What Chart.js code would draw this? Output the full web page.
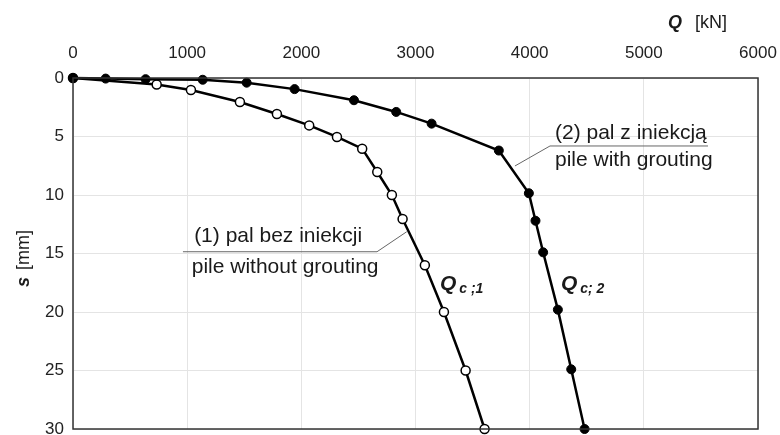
<!DOCTYPE html>
<html>
<head>
<meta charset="utf-8">
<script src="https://cdn.jsdelivr.net/npm/chart.js@4.4.0/dist/chart.umd.min.js"></script>
<style>
  html, body { margin: 0; padding: 0; background: #fff; }
  #wrap { width: 780px; height: 435px; position: relative; }
</style>
</head>
<body>
<div id="wrap"><canvas id="c"></canvas></div>
<script>
'use strict';

// Q [kN] vs s [mm]
var pile1Q = [0, 733, 1033, 1462, 1786, 2069, 2312, 2533, 2665, 2793, 2887, 3082, 3249, 3439, 3605]
var pile1S = [0, 0.55, 1.03, 2.05, 3.08, 4.05, 5.04, 6.04, 8.03, 10.0, 12.05, 16.0, 20.0, 25.0, 30.0]
var pile2Q = [0, 286, 636, 1136, 1521, 1941, 2461, 2831, 3141, 3730, 3993, 4051, 4118, 4247, 4364, 4481]
var pile2S = [0, 0.05, 0.1, 0.15, 0.4, 0.95, 1.9, 2.9, 3.9, 6.2, 9.85, 12.2, 14.9, 19.8, 24.9, 30.0]
var xTicks = [0, 1000, 2000, 3000, 4000, 5000, 6000]
var yTicks = [0, 5, 10, 15, 20, 25, 30]

const toPts = (xs, ys) => xs.map((x, i) => ({x: x, y: ys[i]}))

var FONT = 'Liberation Sans, Arial, sans-serif'

// text labels drawn on the canvas, anchored to data coordinates
var notes = [
	{text: '(2) pal z iniekcją', x: 4222, y: 4.7},
	{text: 'pile with grouting', x: 4222, y: 7.05},
	{text: '(1) pal bez iniekcji', x: 1061, y: 13.56},
	{text: 'pile without grouting', x: 1040, y: 16.13}
]
var leaders = [
	[[3871, 7.52], [4178, 5.81], [5562, 5.81]],
	[[963, 14.85], [2663, 14.85], [2923, 13.14]]
]
var qLabels = [
	{x: 3214, y: 17.5, sub: 'c ;1'},
	{x: 4274, y: 17.5, sub: 'c; 2'}
]

var extras = {
	id: 'extras',
	afterDraw(chart) {
		var ctx = chart.ctx, xs = chart.scales.x, ys = chart.scales.y, a = chart.chartArea
		ctx.save()
		// frame
		ctx.strokeStyle = '#333'
		ctx.lineWidth = 1.5
		ctx.strokeRect(a.left, a.top, a.right - a.left, a.bottom - a.top)

		// leader lines
		ctx.strokeStyle = '#666'
		ctx.lineWidth = 1
		leaders.forEach((l)=>{
			ctx.beginPath()
			l.forEach((p, i)=>{
				var px = xs.getPixelForValue(p[0]), py = ys.getPixelForValue(p[1])
				if (i == 0) ctx.moveTo(px, py); else ctx.lineTo(px, py)
			})
			ctx.stroke()
		})

		ctx.fillStyle = '#1a1a1a'
		ctx.textBaseline = 'middle'
		ctx.textAlign = 'left'
		ctx.font = '21px ' + FONT
		notes.forEach((n)=>{
			ctx.fillText(n.text, xs.getPixelForValue(n.x), ys.getPixelForValue(n.y))
		})

		qLabels.forEach((q)=>{
			var px = xs.getPixelForValue(q.x), py = ys.getPixelForValue(q.y)
			ctx.textBaseline = 'alphabetic'
			ctx.font = 'italic bold 21px ' + FONT
			ctx.fillText('Q', px, py + 7)
			var w = ctx.measureText('Q').width
			ctx.font = 'italic bold 14px ' + FONT
			ctx.fillText(q.sub, px + w + 3, py + 10)
		})

		// axis titles
		ctx.textBaseline = 'middle'
		ctx.font = 'italic bold 18px ' + FONT
		ctx.fillText('Q', 668, 23)
		ctx.font = '18px ' + FONT
		ctx.fillText('[kN]', 695, 23)

		ctx.translate(24, 287)
		ctx.rotate(-Math.PI / 2)
		ctx.font = 'italic bold 18px ' + FONT
		ctx.fillText('s', 0, 0)
		var sw = ctx.measureText('s ').width
		ctx.font = '18px ' + FONT
		ctx.fillText('[mm]', sw + 2, 0)
		ctx.restore()
	}
}

var chart = new Chart(document.getElementById('c').getContext('2d'), {
	type: 'scatter',
	data: {
		datasets: [
			{
				label: 'pile 2',
				data: toPts(pile2Q, pile2S),
				showLine: true,
				borderColor: '#000',
				borderWidth: 2.5,
				pointRadius: 4.5,
				pointBackgroundColor: '#000',
				pointBorderColor: '#000',
				pointBorderWidth: 1,
				clip: false
			},
			{
				label: 'pile 1',
				data: toPts(pile1Q, pile1S),
				showLine: true,
				borderColor: '#000',
				borderWidth: 2.5,
				pointRadius: 4.5,
				pointBackgroundColor: '#fff',
				pointBorderColor: '#000',
				pointBorderWidth: 1.5,
				clip: false
			}
		]
	},
	options: {
		responsive: true,
		maintainAspectRatio: false,
		animation: false,
		layout: {padding: {left: 0, top: 0, right: 22, bottom: 6}},
		plugins: {legend: {display: false}, tooltip: {enabled: false}},
		scales: {
			x: {
				type: 'linear',
				position: 'top',
				min: 0, max: 6000,
				afterBuildTicks: (s)=>{ s.ticks = xTicks.map((v)=>({value: v})) },
				afterFit: (s)=>{ s.height = 78; s.paddingLeft = 0; s.paddingRight = 0 },
				grid: {color: '#e4e4e4', drawTicks: false},
				border: {display: false},
				ticks: {padding: 14, color: '#222', font: {family: FONT, size: 17}, callback: (v)=>String(v)}
			},
			y: {
				type: 'linear',
				reverse: true,
				min: 0, max: 30,
				afterBuildTicks: (s)=>{ s.ticks = yTicks.map((v)=>({value: v})) },
				afterFit: (s)=>{ s.width = 73; s.paddingTop = 0; s.paddingBottom = 0 },
				grid: {color: '#e4e4e4', drawTicks: false},
				border: {display: false},
				ticks: {padding: 9, color: '#222', font: {family: FONT, size: 17}}
			}
		}
	},
	plugins: [extras]
})
</script>
</body>
</html>
